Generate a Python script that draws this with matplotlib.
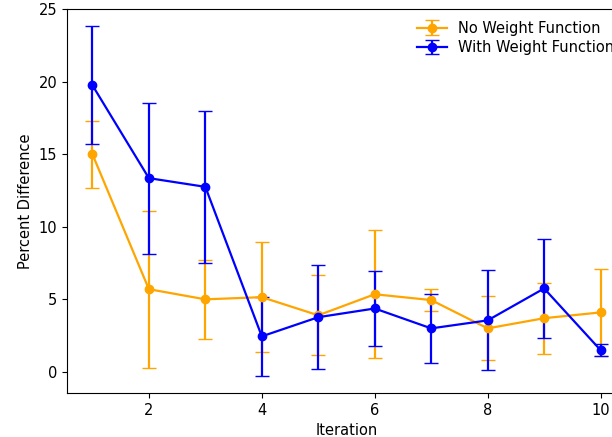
import matplotlib
matplotlib.use("Agg")
import matplotlib.pyplot as plt

iterations = [1, 2, 3, 4, 5, 6, 7, 8, 9, 10]

# no weight function: mean and symmetric error
no_weight = [15.0, 5.7, 5.0, 5.15, 3.9, 5.35, 4.95, 3.0, 3.7, 4.1]
no_weight_err = [2.3, 5.4, 2.7, 3.8, 2.75, 4.4, 0.75, 2.2, 2.45, 3.0]

# with weight function
with_weight = [19.75, 13.35, 12.75, 2.45, 3.77, 4.37, 3.0, 3.55, 5.75, 1.5]
with_weight_err = [4.05, 5.2, 5.25, 2.7, 3.57, 2.6, 2.4, 3.44, 3.38, 0.42]

plt.rcParams["font.size"] = 10.5

fig = plt.figure(figsize=(6.12, 4.37), dpi=100)
# the reference is cropped on the right, so the axes run past the figure edge
ax = fig.add_axes([67/612, 1 - 393/437, (626 - 67)/612, (393 - 9)/437])

ax.errorbar(iterations, no_weight, yerr=no_weight_err, color="orange",
            marker="o", markersize=6, capsize=5, linewidth=1.6,
            label="No Weight Function")
ax.errorbar(iterations, with_weight, yerr=with_weight_err, color="blue",
            marker="o", markersize=6, capsize=5, linewidth=1.6,
            label="With Weight Function")

ax.set_xlabel("Iteration")
ax.set_ylabel("Percent Difference")
ax.legend(loc="upper right", frameon=False, labelspacing=0.3,
          borderaxespad=0.4)

fig.savefig("out.png", dpi=100)
